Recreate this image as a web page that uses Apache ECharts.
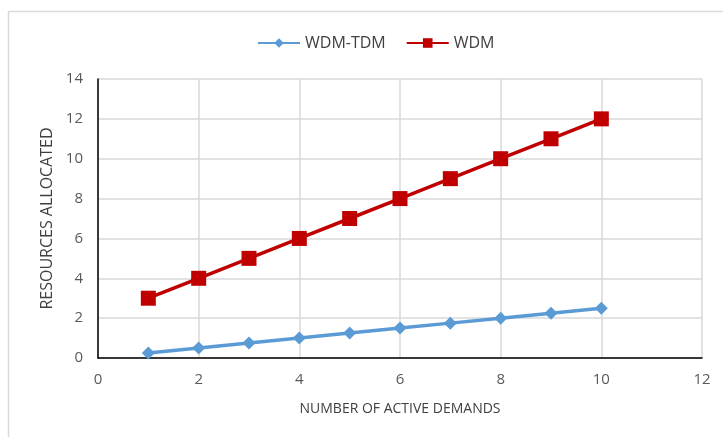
<!DOCTYPE html>
<html><head><meta charset="utf-8">
<script src="https://cdn.jsdelivr.net/npm/echarts@6/dist/echarts.min.js"></script>
<style>html,body{margin:0;padding:0;background:#fff}#c{width:723px;height:437px}</style>
</head><body><div id="c"></div>
<script>
const xValues = [1, 2, 3, 4, 5, 6, 7, 8, 9, 10];
const wdmTdm = [0.25, 0.5, 0.75, 1, 1.25, 1.5, 1.75, 2, 2.25, 2.5];
const wdm = [3, 4, 5, 6, 7, 8, 9, 10, 11, 12];
const seriesNames = ['WDM-TDM', 'WDM'];
const xTitle = 'NUMBER OF ACTIVE DEMANDS';
const yTitle = 'RESOURCES ALLOCATED';

const chart = echarts.init(document.getElementById('c'));
const font = '"Open Sans", "Liberation Sans", sans-serif';
chart.setOption({
  animation: false,
  textStyle: { fontFamily: font },
  graphic: [{
    type: 'polyline', silent: true,
    shape: { points: [[8.5, 437], [8.5, 11.5], [723, 11.5]] },
    style: { stroke: '#d9d9d9', lineWidth: 1.5, fill: null }
  }],
  legend: {
    top: 30, left: 252, itemGap: 20, itemWidth: 42, itemHeight: 12,
    textStyle: { fontSize: 16, color: '#404040', fontFamily: font },
    data: seriesNames
  },
  grid: { left: 98, right: 21, top: 79, bottom: 79, containLabel: false },
  xAxis: {
    type: 'value', min: 0, max: 12, interval: 2,
    name: xTitle, nameLocation: 'middle', nameGap: 44,
    nameTextStyle: { fontSize: 14, color: '#404040', fontFamily: font },
    axisLine: { show: true, lineStyle: { color: '#000', width: 1.5 } },
    axisTick: { show: false },
    axisLabel: { fontSize: 15, color: '#595959', margin: 14, fontFamily: font },
    splitLine: { show: true, lineStyle: { color: '#d9d9d9', width: 1.5 } }
  },
  yAxis: {
    type: 'value', min: 0, max: 14, interval: 2,
    name: yTitle, nameLocation: 'middle', nameGap: 41, nameRotate: 90,
    nameTextStyle: { fontSize: 16, color: '#404040', fontFamily: font },
    axisLine: { show: true, lineStyle: { color: '#000', width: 1.5 } },
    axisTick: { show: false },
    axisLabel: { fontSize: 15, color: '#595959', margin: 15, fontFamily: font },
    splitLine: { show: true, lineStyle: { color: '#d9d9d9', width: 1.5 } }
  },
  series: [
    {
      name: seriesNames[0], type: 'line',
      data: xValues.map((x, i) => [x, wdmTdm[i]]),
      symbol: 'diamond', symbolSize: 13,
      lineStyle: { color: '#5B9BD5', width: 3.5 },
      itemStyle: { color: '#5B9BD5' }
    },
    {
      name: seriesNames[1], type: 'line',
      data: xValues.map((x, i) => [x, wdm[i]]),
      symbol: 'rect', symbolSize: 15,
      lineStyle: { color: '#C00000', width: 3.5 },
      itemStyle: { color: '#C00000' }
    }
  ]
});
</script></body></html>
